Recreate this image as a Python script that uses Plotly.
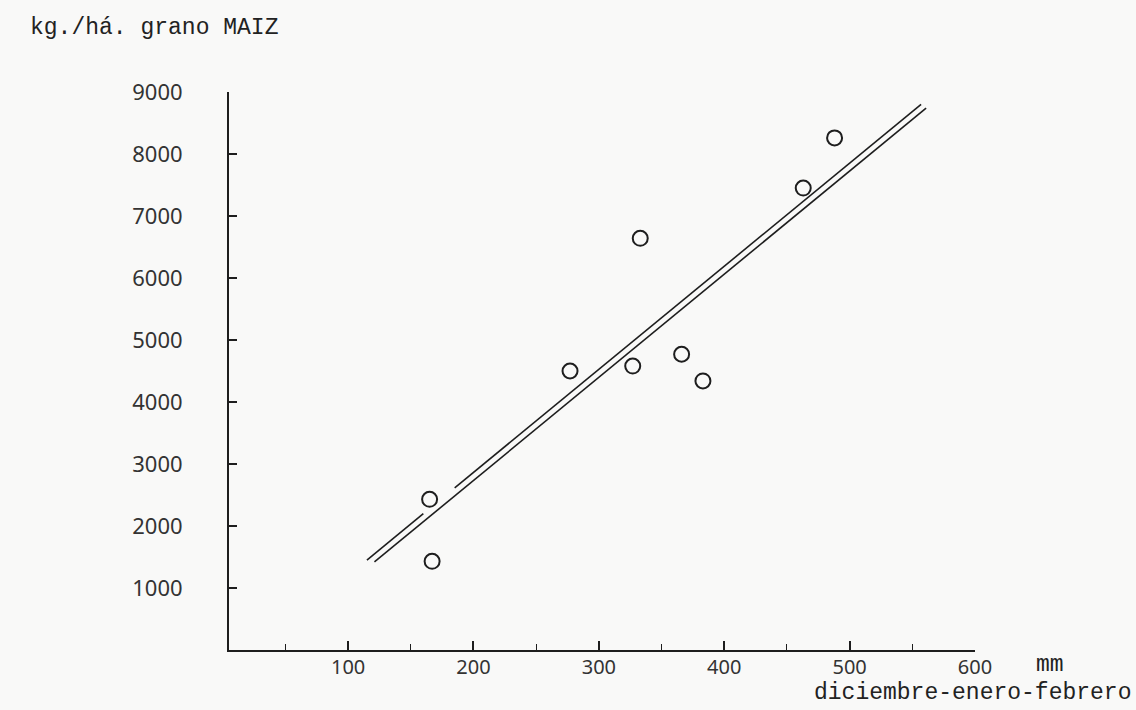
import plotly.graph_objects as go

# Data
rain_mm = [165, 167, 277, 327, 333, 366, 383, 463, 488]
yield_kg = [2430, 1430, 4500, 4580, 6640, 4770, 4340, 7450, 8260]

# Regression line drawn as a double line (upper one broken near a point)
line_upper_x = [115, 160, None, 185, 557]
line_upper_y = [1450, 2200, None, 2615, 8800]
line_lower_x = [121, 561]
line_lower_y = [1420, 8740]

x_tickvals = [100, 200, 300, 400, 500, 600]
y_tickvals = [1000, 2000, 3000, 4000, 5000, 6000, 7000, 8000, 9000]

ink = "#1e1e1e"
fig = go.Figure()
fig.add_trace(go.Scatter(x=line_upper_x, y=line_upper_y, mode="lines",
                         line=dict(color=ink, width=1.6), connectgaps=False,
                         hoverinfo="skip"))
fig.add_trace(go.Scatter(x=line_lower_x, y=line_lower_y, mode="lines",
                         line=dict(color=ink, width=1.6), hoverinfo="skip"))
fig.add_trace(go.Scatter(x=rain_mm, y=yield_kg, mode="markers",
                         marker=dict(symbol="circle-open", size=15, color=ink,
                                     line=dict(width=2, color=ink))))

xtickfont = dict(family="Noto Sans", size=20, color="#333333")
ytickfont = dict(family="Noto Sans", size=22, color="#333333")
fig.update_layout(
    width=1136, height=710,
    margin=dict(l=229, r=161, t=92, b=60),
    paper_bgcolor="#f9f9f8", plot_bgcolor="#f9f9f8",
    showlegend=False,
    xaxis=dict(range=[5, 600], tickvals=x_tickvals, ticks="inside", ticklen=9,
               tickwidth=1.5, tickcolor=ink, showline=True, linecolor=ink,
               linewidth=2, showgrid=False, zeroline=False, tickfont=xtickfont,
               ticklabelstandoff=-2,
               minor=dict(dtick=50, tick0=0, ticks="inside", ticklen=6,
                          tickwidth=1.2, tickcolor=ink, showgrid=False)),
    yaxis=dict(range=[0, 9000], tickvals=y_tickvals, ticks="inside", ticklen=8,
               tickwidth=1.5, tickcolor=ink, showline=True, linecolor=ink,
               linewidth=2, showgrid=False, zeroline=False, tickfont=ytickfont,
               ticklabelstandoff=40),
)

monofont = dict(family="Liberation Mono", size=23, color="#222222")
fig.add_annotation(text="kg./há. grano MAIZ", xref="paper", yref="paper",
                   x=-0.2694, y=1.1147, xanchor="left", yanchor="middle",
                   showarrow=False, font=monofont)
fig.add_annotation(text="mm", xref="paper", yref="paper",
                   x=1.1005, y=-0.0269, xanchor="center", yanchor="middle",
                   showarrow=False, font=monofont)
fig.add_annotation(text="diciembre-enero-febrero", xref="paper", yref="paper",
                   x=1.2118, y=-0.0771, xanchor="right", yanchor="middle",
                   showarrow=False, font=monofont)

fig.write_html("out.html", config={"displayModeBar": False},
               post_script="document.body.style.margin='0';document.body.style.padding='0';")
